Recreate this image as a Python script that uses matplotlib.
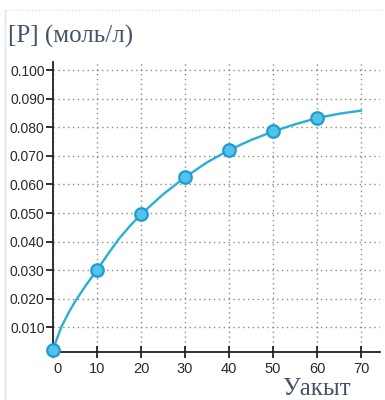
import matplotlib
matplotlib.use('Agg')
import matplotlib.pyplot as plt
import matplotlib.transforms as mtrans

# measured points
t_pts = [0, 10, 20, 30, 40, 50, 60]
p_pts = [0.002, 0.030, 0.0495, 0.0625, 0.072, 0.0785, 0.0832]

# smooth curve
t_curve = [0, 1, 2, 3.5, 5, 7.5, 10, 12.5, 15, 17.5, 20, 25, 30, 35, 40, 45, 50, 55, 60, 65, 70]
p_curve = [0.002, 0.0065, 0.0105, 0.015, 0.019, 0.0248, 0.030, 0.0357, 0.041, 0.0455, 0.0495,
           0.0565, 0.0625, 0.0677, 0.072, 0.0755, 0.0785, 0.081, 0.0832, 0.0847, 0.0858]

x_ticks = [0, 10, 20, 30, 40, 50, 60, 70]
y_ticks = [0.010, 0.020, 0.030, 0.040, 0.050, 0.060, 0.070, 0.080, 0.090, 0.100]

line_col = '#2aaed6'
fill_col = '#52c4ea'
edge_col = '#1f9ad4'
txt_col = '#44536b'

fig = plt.figure(figsize=(3.85, 4.0), dpi=100)
ax = fig.add_axes([0.1377, 0.12, 0.849, 0.725])

ax.plot(t_curve, p_curve, color=line_col, linewidth=1.7, zorder=3)
ax.plot(t_pts, p_pts, linestyle='none', marker='o', markersize=9,
        markerfacecolor=fill_col, markeredgecolor=edge_col, markeredgewidth=1.6,
        zorder=4, clip_on=False)

ax.set_xlim(0, 74.3)
ax.set_ylim(0.0014, 0.1028)
ax.set_xticks(x_ticks)
ax.set_yticks(y_ticks)
ax.set_xticklabels([str(v) for v in x_ticks])
ax.set_yticklabels(['%.3f' % v for v in y_ticks])

for s in ['top', 'right']:
    ax.spines[s].set_visible(False)
for s in ['left', 'bottom']:
    ax.spines[s].set_linewidth(1.3)
    ax.spines[s].set_color('#222222')

ax.grid(True, linestyle=(0, (1, 2.5)), color='#8a8a8a', linewidth=1.0)
ax.tick_params(axis='y', direction='out', length=5, width=1.3, color='#222222',
               labelsize=10, labelcolor='#2a2a2a', pad=1)
ax.tick_params(axis='x', direction='inout', length=9, width=1.3, color='#222222',
               labelsize=10.5, labelcolor='#2a2a2a', pad=3)
for lab in ax.get_xticklabels() + ax.get_yticklabels():
    lab.set_family(['Liberation Sans', 'DejaVu Sans'])
# nudge the "0" label off the axis
first = ax.get_xticklabels()[0]
first.set_transform(first.get_transform() + mtrans.ScaledTranslation(4 / 100, 0, fig.dpi_scale_trans))

fig.text(0.022, 0.91, '[P] (моль/л)', fontsize=18, color=txt_col,
         family=['Liberation Serif', 'DejaVu Serif'], ha='left', va='center')
fig.text(0.733, 0.0, 'Уакыт', fontsize=18, color=txt_col,
         family=['Liberation Serif', 'DejaVu Serif'], ha='left', va='bottom')

# faint page frame
fig.add_artist(plt.Line2D([0.013, 0.013], [0.0, 0.975], transform=fig.transFigure,
                          color='#e4e4e4', linewidth=1))
fig.add_artist(plt.Line2D([0.013, 1.0], [0.975, 0.975], transform=fig.transFigure,
                          color='#d8d8d8', linewidth=0.8, linestyle=(0, (1, 2))))

plt.savefig('out.png', dpi=100, facecolor='w')
